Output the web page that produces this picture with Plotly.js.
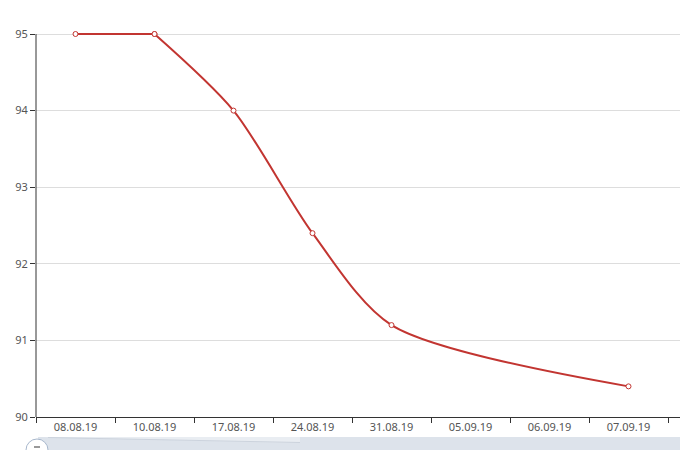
<!DOCTYPE html>
<html>
<head>
<meta charset="utf-8">
<script src="https://cdn.plot.ly/plotly-3.0.1.min.js"></script>
<style>
html,body{margin:0;padding:0;background:#fff;}
#chart{width:680px;height:450px;}
</style>
</head>
<body>
<div id="chart"></div>
<script>
var categories = ["08.08.19","10.08.19","17.08.19","24.08.19","31.08.19","05.09.19","06.09.19","07.09.19"];
var values = [95, 95, 94, 92.4, 91.2, null, null, 90.4];
var yTicks = [90, 91, 92, 93, 94, 95];

var W = 680, H = 450, L = 36, R = 0, T = 28, B = 33;
var pw = W - L - R, ph = H - T - B;
function px(x){ return (x - L) / pw; }
function py(y){ return (H - B - y) / ph; }
var unitPx = (417 - 34) / 5;
var yTop = 95 + (34 - T) / unitPx;

var lineStyle = {color: '#c23531', width: 2};
var markerStyle = {symbol: 'circle', size: 5, color: '#ffffff', line: {color: '#c23531', width: 1}};

// flat start segment (no overshoot, as in the original's clamped smoothing)
var traceStart = {
  type: 'scatter', mode: 'lines+markers',
  x: categories.slice(0, 2), y: values.slice(0, 2),
  line: {color: lineStyle.color, width: lineStyle.width, shape: 'linear'},
  marker: markerStyle, hoverinfo: 'x+y'
};
var traceRest = {
  type: 'scatter', mode: 'lines+markers',
  x: categories.slice(1), y: values.slice(1),
  connectgaps: true,
  line: {color: lineStyle.color, width: lineStyle.width, shape: 'spline', smoothing: 0.8},
  marker: markerStyle, hoverinfo: 'x+y'
};

var shapes = [
  {type: 'line', xref: 'paper', yref: 'y', x0: 0, x1: 0, y0: 90, y1: 95,
   line: {color: '#333', width: 1}, layer: 'above'},
  {type: 'rect', xref: 'paper', yref: 'paper', x0: px(38), x1: px(690), y0: py(437), y1: py(455),
   fillcolor: '#dde3eb', line: {width: 0}, layer: 'above'},
  {type: 'path', xref: 'paper', yref: 'paper',
   path: 'M ' + px(40) + ' ' + py(437) + ' L ' + px(300) + ' ' + py(437) + ' L ' + px(300) + ' ' + py(443) + ' Z',
   fillcolor: '#e9edf2', line: {width: 0}, layer: 'above'},
  {type: 'line', xref: 'paper', yref: 'paper', x0: px(48), x1: px(300), y0: py(437.5), y1: py(442.5),
   line: {color: '#ccd3dd', width: 1}, layer: 'above'},
  {type: 'circle', xref: 'paper', yref: 'paper', x0: px(26), x1: px(48), y0: py(439), y1: py(461),
   fillcolor: '#ffffff', line: {color: '#a7b7cc', width: 1}, layer: 'above'},
  {type: 'line', xref: 'paper', yref: 'paper', x0: px(34), x1: px(40), y0: py(447), y1: py(447),
   line: {color: '#777', width: 1.5}, layer: 'above'}
];

var layout = {
  width: W, height: H,
  margin: {l: L, r: R, t: T, b: B, pad: 0},
  paper_bgcolor: '#ffffff',
  plot_bgcolor: '#ffffff',
  showlegend: false,
  font: {family: 'Noto Sans, Open Sans, sans-serif', size: 11, color: '#555'},
  xaxis: {
    type: 'category',
    categoryorder: 'array', categoryarray: categories,
    range: [-0.5, 7.5 + 12/79],
    tickson: 'boundaries',
    ticks: 'outside', ticklen: 5, tickcolor: '#333', tickwidth: 1,
    showline: true, linecolor: '#333', linewidth: 1,
    showgrid: false, zeroline: false,
    tickfont: {size: 11, color: '#555'},
    fixedrange: true
  },
  yaxis: {
    range: [90, yTop],
    tickvals: yTicks,
    ticktext: yTicks.map(String),
    ticks: 'outside', ticklen: 5, tickcolor: '#333', tickwidth: 1,
    showline: false,
    showgrid: true, gridcolor: '#dddddd', gridwidth: 1,
    zeroline: false,
    tickfont: {size: 11, color: '#555'},
    fixedrange: true
  },
  shapes: shapes
};

Plotly.newPlot('chart', [traceStart, traceRest], layout, {displayModeBar: false, staticPlot: true});
</script>
</body>
</html>
